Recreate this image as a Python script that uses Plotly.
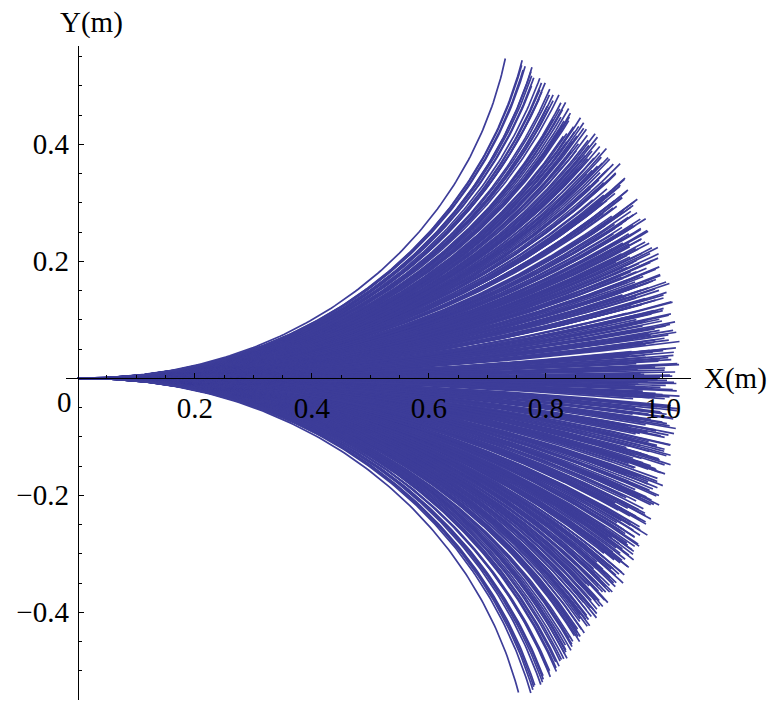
import numpy as np
import plotly.graph_objects as go

# ---- data: end bearing of each trajectory (deg, direction of its end point seen from the origin)
# and its path length (mm); two sampled batches per side
upper_bearing_deg = [
    0.1, 0.3, 0.4, 0.6, 0.9, 1.0, 1.2, 1.3, 1.6, 1.7, 1.8, 2.1, 2.2, 2.4, 2.7, 2.8, 2.9, 3.45, 3.55, 3.5,
    3.6, 3.9, 4.0, 4.2, 4.3, 4.6, 4.8, 4.9,
    5.1, 5.3, 5.4, 5.7, 5.8, 6.0, 6.1, 6.4, 6.5, 6.6, 6.75, 6.65, 7.35, 7.5, 7.6, 7.8, 7.9, 8.2, 8.3, 8.5,
    8.8, 8.9, 9.1, 9.2, 9.5, 9.7, 9.8,
    10.0, 10.3, 10.4, 10.6, 10.9, 10.85, 11.55, 11.5, 11.6, 11.8, 12.1, 12.2, 12.5, 12.6, 12.8, 13.1, 13.2,
    13.5, 13.7, 13.8, 13.85, 14.55, 14.4, 14.7, 14.9,
    15.1, 15.4, 15.5, 15.8, 16.0, 16.1, 16.4, 16.7, 16.8, 17.1, 17.3, 17.4, 17.7, 17.75, 18.45, 18.4, 18.6,
    18.9, 19.1, 19.3, 19.6, 19.9,
    20.1, 20.4, 20.6, 20.9, 20.85, 21.4, 21.6, 21.9, 22.2, 22.4, 22.7, 22.9, 23.3, 23.5, 23.8, 23.85, 24.4, 24.7,
    25.0, 25.3, 25.6, 25.9, 26.3, 26.5, 26.9, 26.8, 27.6, 27.9, 28.3, 28.6,
    29.0, 29.5, 29.9, 30.3, 30.8, 31.2, 31.7, 32.3, 32.8,
    33.4, 34.1, 34.7, 35.2, 35.6, 36.8]
upper_length_mm = [
    995, 1012, 968, 1021, 957, 1004, 981, 1028, 949, 993,
    1015, 972, 1019, 944, 1002, 979, 1024, 961, 988, 1031,
    969, 1006, 952, 1013, 983, 1022, 958, 991, 1011, 971,
    1027, 977, 1001, 962, 1018, 989, 966, 1009, 947, 998,
    1026, 976, 959, 1014, 986, 968, 1021, 951, 1003, 979,
    1029, 963, 994, 1008, 972, 1017, 982, 954, 1001, 969,
    1019, 987, 958, 1011, 978, 1024, 949, 997, 971, 1016,
    989, 962, 1008, 981, 943, 1002, 1018, 973, 986, 1009,
    961, 998, 979, 1014, 969, 991, 1006, 976, 1004, 993,
    1012, 957, 985, 1023, 966, 1000, 974, 1015, 952, 990,
    1007, 968, 1020, 983, 959, 1010, 978, 996, 1025, 964,
    988, 1013, 955, 1002, 980, 1018, 971, 994, 1008, 962,
    999, 1016, 975, 987, 1005, 967, 992, 1011, 979, 985,
    1003, 972, 996, 1009, 981, 994, 1001, 977, 990, 1006,
    984, 998, 1003, 995, 1000, 1008, 990]
upper_bearing_deg_b = [
    0.0, 0.2, 0.5, 0.8, 1.1, 1.4, 1.5, 1.9, 2.0, 2.3, 2.5, 2.6, 2.75, 2.85, 3.4, 3.7, 3.8, 4.1, 4.4, 4.5, 4.7,
    5.0, 5.2, 5.5, 5.6, 5.9, 6.2, 6.3, 6.7, 6.8, 7.45, 7.3, 7.4, 7.7, 8.0, 8.1, 8.4, 8.6, 8.7, 9.0, 9.3,
    9.4, 9.6, 9.9,
    10.1, 10.2, 10.5, 10.7, 10.8, 10.95, 11.45, 11.4, 11.7, 11.9, 12.0, 12.3, 12.4, 12.7, 12.9, 13.0, 13.3,
    13.4, 13.6, 13.9, 13.95, 14.45, 14.5, 14.6, 14.8,
    15.0, 15.3, 15.6, 15.7, 15.9, 16.2, 16.3, 16.5, 16.9, 17.0, 17.2, 17.5, 17.6, 17.65, 18.35, 18.3, 18.5,
    18.8, 19.0, 19.2, 19.5, 19.7,
    20.0, 20.3, 20.5, 20.8, 20.75, 21.55, 21.5, 21.8, 22.0, 22.3, 22.6, 22.8, 23.1, 23.4, 23.7, 23.95, 24.55,
    24.5, 24.9,
    25.1, 25.5, 25.8, 26.1, 26.4, 26.7, 26.6, 27.4, 27.7, 28.0, 28.4, 28.8,
    29.2, 29.7, 30.1, 30.5, 31.0, 31.5, 32.0, 32.5, 33.0, 33.7, 34.4, 34.9]
upper_length_mm_b = [
    978, 1016, 962, 1003, 987, 1025, 955, 996, 1010, 970,
    1020, 984, 948, 1007, 973, 1013, 990, 959, 1027, 980,
    999, 966, 1018, 953, 1005, 985, 1022, 961, 994, 1011,
    975, 1028, 957, 1000, 983, 1015, 968, 1009, 946, 992,
    1024, 972, 1002, 960, 1017, 988, 951, 1012, 979, 997,
    1006, 965, 1021, 984, 956, 1010, 975, 1026, 963, 993,
    1014, 980, 950, 1004, 971, 1019, 987, 958, 1008, 976,
    1001, 967, 1023, 982, 954, 996, 1013, 970, 989, 1007,
    960, 1016, 978, 1000, 985, 964, 1011, 992, 973, 1005,
    983, 1018, 957, 994, 1009, 969, 1002, 986, 1014, 976,
    998, 1012, 965, 990, 1004, 979, 1010, 971, 995, 1016,
    981, 1003, 966, 1008, 988, 1000, 975, 1012, 992, 997,
    985, 1006, 993, 1002, 979, 1009, 996, 1004, 990, 1001,
    1005, 998, 1010, 1003]
lower_bearing_deg = [
    -0.2, -0.3, -0.5, -0.8, -0.9, -1.1, -1.4, -1.5, -1.7, -1.9, -2.0, -1.95, -2.75, -2.6, -2.8, -3.1, -3.2,
    -3.4, -3.7, -3.8, -4.1, -4.2, -4.4, -4.7, -4.8,
    -5.0, -5.2, -5.5, -5.6, -5.65, -6.35, -6.45, -6.3, -6.6, -6.8, -7.1, -7.2, -7.4, -7.7, -7.8, -8.0, -8.1,
    -8.4, -8.6, -8.7, -9.0, -9.15, -9.25, -9.85, -9.9,
    -10.1, -10.2, -10.5, -10.7, -10.8, -11.1, -11.3, -11.4, -11.7, -11.9, -12.0, -12.3, -12.4, -12.35,
    -13.05, -13.0, -13.3, -13.6, -13.7, -13.9, -14.2, -14.5, -14.6, -14.8,
    -15.0, -15.3, -15.6, -15.7, -15.9, -15.85, -16.5, -16.6, -16.9, -17.2, -17.5, -17.6, -17.9, -18.2,
    -18.3, -18.7, -18.8, -18.95, -19.55, -19.7, -19.9,
    -20.3, -20.5, -20.8, -21.0, -21.3, -21.7, -21.8, -22.1, -22.15, -22.85, -23.0, -23.2, -23.6, -23.9,
    -24.2, -24.5, -24.9,
    -25.2, -25.4, -25.8, -25.85, -26.5, -26.8, -27.2, -27.4, -27.9, -28.3, -28.7,
    -29.1, -29.5, -30.0, -30.4, -30.9, -31.5, -32.0, -32.6,
    -33.2, -33.9, -34.4, -35.5]
lower_length_mm = [
    1007, 974, 1023, 953, 996, 1017, 965, 988, 1029, 947,
    1004, 978, 1014, 959, 992, 1026, 969, 1001, 951, 1019,
    983, 962, 1011, 975, 1027, 946, 994, 1016, 967, 1003,
    984, 1021, 957, 999, 971, 1013, 948, 1025, 986, 964,
    1008, 977, 1018, 953, 995, 1006, 968, 1022, 981, 959,
    1012, 973, 997, 1015, 965, 1003, 979, 1021, 955, 992,
    1011, 968, 986, 1017, 949, 1002, 976, 1009, 961, 994,
    1013, 972, 989, 1006, 967, 998, 1012, 978, 1004, 987,
    1015, 969, 999, 1009, 982, 1014, 993, 970, 1005, 988,
    1000, 1017, 975, 991, 1007, 963, 996, 1010, 980, 1002,
    985, 1012, 971, 997, 1008, 983, 994, 1006, 978, 1001,
    990, 1004, 986, 999, 1011, 992, 1003, 997, 1009, 1000,
    995, 1006, 998, 1004, 1007, 1012, 1010, 1015, 1018, 1010,
    1006, 1014, 1008, 1012, 998]
lower_bearing_deg_b = [
    -0.1, -0.4, -0.6, -0.7, -1.0, -1.2, -1.3, -1.6, -1.8, -2.1, -1.85, -2.65, -2.7, -2.9, -3.0, -3.3, -3.5,
    -3.6, -3.9, -4.0, -4.3, -4.5, -4.6, -4.9,
    -5.1, -5.3, -5.4, -5.7, -5.75, -6.55, -6.4, -6.5, -6.7, -6.9, -7.0, -7.3, -7.5, -7.6, -7.9, -8.2, -8.3,
    -8.5, -8.8, -8.9, -9.1, -9.2, -9.05, -9.95, -9.8,
    -10.0, -10.3, -10.4, -10.6, -10.9, -11.0, -11.2, -11.5, -11.6, -11.8, -12.1, -12.2, -12.45, -13.15,
    -12.3, -13.1, -13.2, -13.4, -13.5, -13.8, -14.0, -14.1, -14.3, -14.4, -14.7, -14.9,
    -15.1, -15.2, -15.4, -15.5, -15.8, -15.95, -16.55, -16.65, -16.75, -16.7, -16.8, -17.0, -17.1, -17.3,
    -17.4, -17.7, -17.8, -18.0, -18.1, -18.4, -18.5, -18.6, -18.9, -18.85, -18.75, -19.65, -19.5, -19.6, -19.8,
    -20.0, -20.1, -20.4, -20.6, -20.7, -20.9, -21.1, -21.2, -21.5, -21.6, -21.9, -22.0, -22.05, -22.25,
    -22.95, -22.8, -23.1, -23.4, -23.5, -23.7, -24.0, -24.1, -24.4, -24.7, -24.8,
    -25.0, -25.3, -25.6, -25.95, -26.65, -26.7, -27.0, -27.3, -27.7, -28.0, -28.5,
    -28.9, -29.3, -29.8, -30.2, -30.7, -31.2, -31.8, -32.3, -32.9, -33.5, -34.1, -34.8]
lower_length_mm_b = [
    991, 1019, 958, 1005, 974, 1024, 966, 1000, 1012, 950,
    987, 1015, 969, 1027, 955, 998, 1009, 978, 1021, 962,
    1003, 971, 1016, 947, 993, 1025, 980, 960, 1010, 985,
    1022, 967, 999, 1013, 952, 988, 1018, 975, 1006, 963,
    1028, 981, 957, 1004, 970, 1014, 992, 949, 1011, 976,
    997, 1023, 964, 1008, 983, 955, 1017, 972, 1001, 989,
    961, 1012, 979, 1026, 953, 995, 1007, 968, 1020, 984,
    1002, 958, 1015, 973, 990, 1009, 966, 1024, 982, 951,
    1005, 977, 1018, 962, 996, 1011, 985, 970, 1013, 993,
    959, 1008, 980, 1019, 967, 1001, 988, 1014, 972, 999,
    1010, 963, 994, 1016, 978, 1003, 986, 1021, 969, 1006,
    983, 1012, 974, 997, 1008, 965, 1002, 990, 1015, 979,
    1000, 988, 1011, 972, 1005, 994, 1009, 982, 1013, 996,
    1003, 990, 1008, 997, 1011, 1001, 1006, 1014, 1004, 1009,
    1012, 1007, 1016, 1010, 1005, 1013, 1008, 1017, 1011, 1015,
    1009, 1014]

x_tick_vals = [0.2, 0.4, 0.6, 0.8, 1.0]
x_tick_text = ["0.2", "0.4", "0.6", "0.8", "1.0"]
y_tick_vals = [-0.4, -0.2, 0.2, 0.4]
y_tick_text = ["\u22120.4", "\u22120.2", "0.2", "0.4"]

# ---- style / geometry
COLOR = "#3d3d99"
P_EXP = 1.12         # heading grows as (s/L)^p along each path
XR = [-0.02, 1.048]
YR = [-0.550, 0.568]
FONT = "Liberation Serif"
ML, MR, MT, MB = 66, 82, 46, 4
W, H = 773, 704
PW, PH = W - ML - MR, H - MT - MB


def path(theta_end, length, n=140):
    u = np.linspace(0.0, 1.0, n)
    th = theta_end * u ** P_EXP
    du = u[1] - u[0]
    cx = np.concatenate([[0.0], np.cumsum((np.cos(th[1:]) + np.cos(th[:-1])) * 0.5 * du)])
    cy = np.concatenate([[0.0], np.cumsum((np.sin(th[1:]) + np.sin(th[:-1])) * 0.5 * du)])
    return length * cx, length * cy


# map end bearing -> end heading of the path
theta_grid = np.linspace(-2.4, 2.4, 2401)
bearing_grid = []
for t in theta_grid:
    gx, gy = path(t, 1.0, 80)
    bearing_grid.append(np.degrees(np.arctan2(gy[-1], gx[-1])))
bearing_grid = np.array(bearing_grid)

pairs = (list(zip(upper_bearing_deg, upper_length_mm)) + list(zip(upper_bearing_deg_b, upper_length_mm_b))
         + list(zip(lower_bearing_deg, lower_length_mm)) + list(zip(lower_bearing_deg_b, lower_length_mm_b)))
xs, ys = [], []
for b, Lmm in pairs:
    th_end = float(np.interp(b, bearing_grid, theta_grid))
    px, py = path(th_end, Lmm / 1000.0)
    xs.extend(px.tolist() + [None])
    ys.extend(py.tolist() + [None])

fig = go.Figure()
fig.add_trace(go.Scatter(x=xs, y=ys, mode="lines", line=dict(color=COLOR, width=1.7),
                         hoverinfo="skip", showlegend=False))

x_minor = [round(0.05 * k, 2) for k in range(1, 21) if k % 4 != 0]
y_minor = [round(0.05 * k, 2) for k in range(-11, 12) if k % 4 != 0 and k != 0]


def px_to_paper(xp, yp):
    return (xp - ML) / PW, (H - MB - yp) / PH


ax_font = dict(family=FONT, size=29, color="black")
xm = px_to_paper(702, 378)
ym = px_to_paper(91.5, 22)
zm = px_to_paper(64.5, 402)

fig.update_layout(
    width=W, height=H,
    margin=dict(l=ML, r=MR, t=MT, b=MB),
    plot_bgcolor="white", paper_bgcolor="white",
    showlegend=False,
    xaxis=dict(range=XR, showgrid=False, zeroline=False, showline=True, linecolor="black", linewidth=1,
               anchor="free", position=(0 - YR[0]) / (YR[1] - YR[0]), automargin=False,
               tickmode="array", tickvals=x_tick_vals, ticktext=x_tick_text,
               ticks="inside", ticklen=5, tickcolor="black", tickwidth=1,
               ticklabelstandoff=4, tickfont=ax_font,
               minor=dict(tickmode="array", tickvals=x_minor, ticks="inside", ticklen=3,
                          tickcolor="black", showgrid=False)),
    yaxis=dict(range=YR, showgrid=False, zeroline=False, showline=True, linecolor="black", linewidth=1,
               anchor="free", position=(0 - XR[0]) / (XR[1] - XR[0]), automargin=False,
               tickmode="array", tickvals=y_tick_vals, ticktext=y_tick_text,
               ticks="inside", ticklen=5, tickcolor="black", tickwidth=1,
               ticklabelstandoff=3, tickfont=ax_font,
               minor=dict(tickmode="array", tickvals=y_minor, ticks="inside", ticklen=3,
                          tickcolor="black", showgrid=False)),
    annotations=[
        dict(x=xm[0], y=xm[1], xref="paper", yref="paper", text="X(m)", showarrow=False,
             xanchor="left", yanchor="middle", font=ax_font),
        dict(x=ym[0], y=ym[1], xref="paper", yref="paper", text="Y(m)", showarrow=False,
             xanchor="center", yanchor="middle", font=ax_font),
        dict(x=zm[0], y=zm[1], xref="paper", yref="paper", text="0", showarrow=False,
             xanchor="center", yanchor="middle", font=ax_font),
    ],
)

fig.write_html("out.html", config={"displayModeBar": False, "staticPlot": True})

# remove the browser's default page margin so the figure sits at the window's top-left corner
with open("out.html", "r", encoding="utf-8") as fh:
    html = fh.read()
html = html.replace("<head>", "<head><style>html,body{margin:0;padding:0;overflow:hidden;}</style>", 1)
with open("out.html", "w", encoding="utf-8") as fh:
    fh.write(html)
